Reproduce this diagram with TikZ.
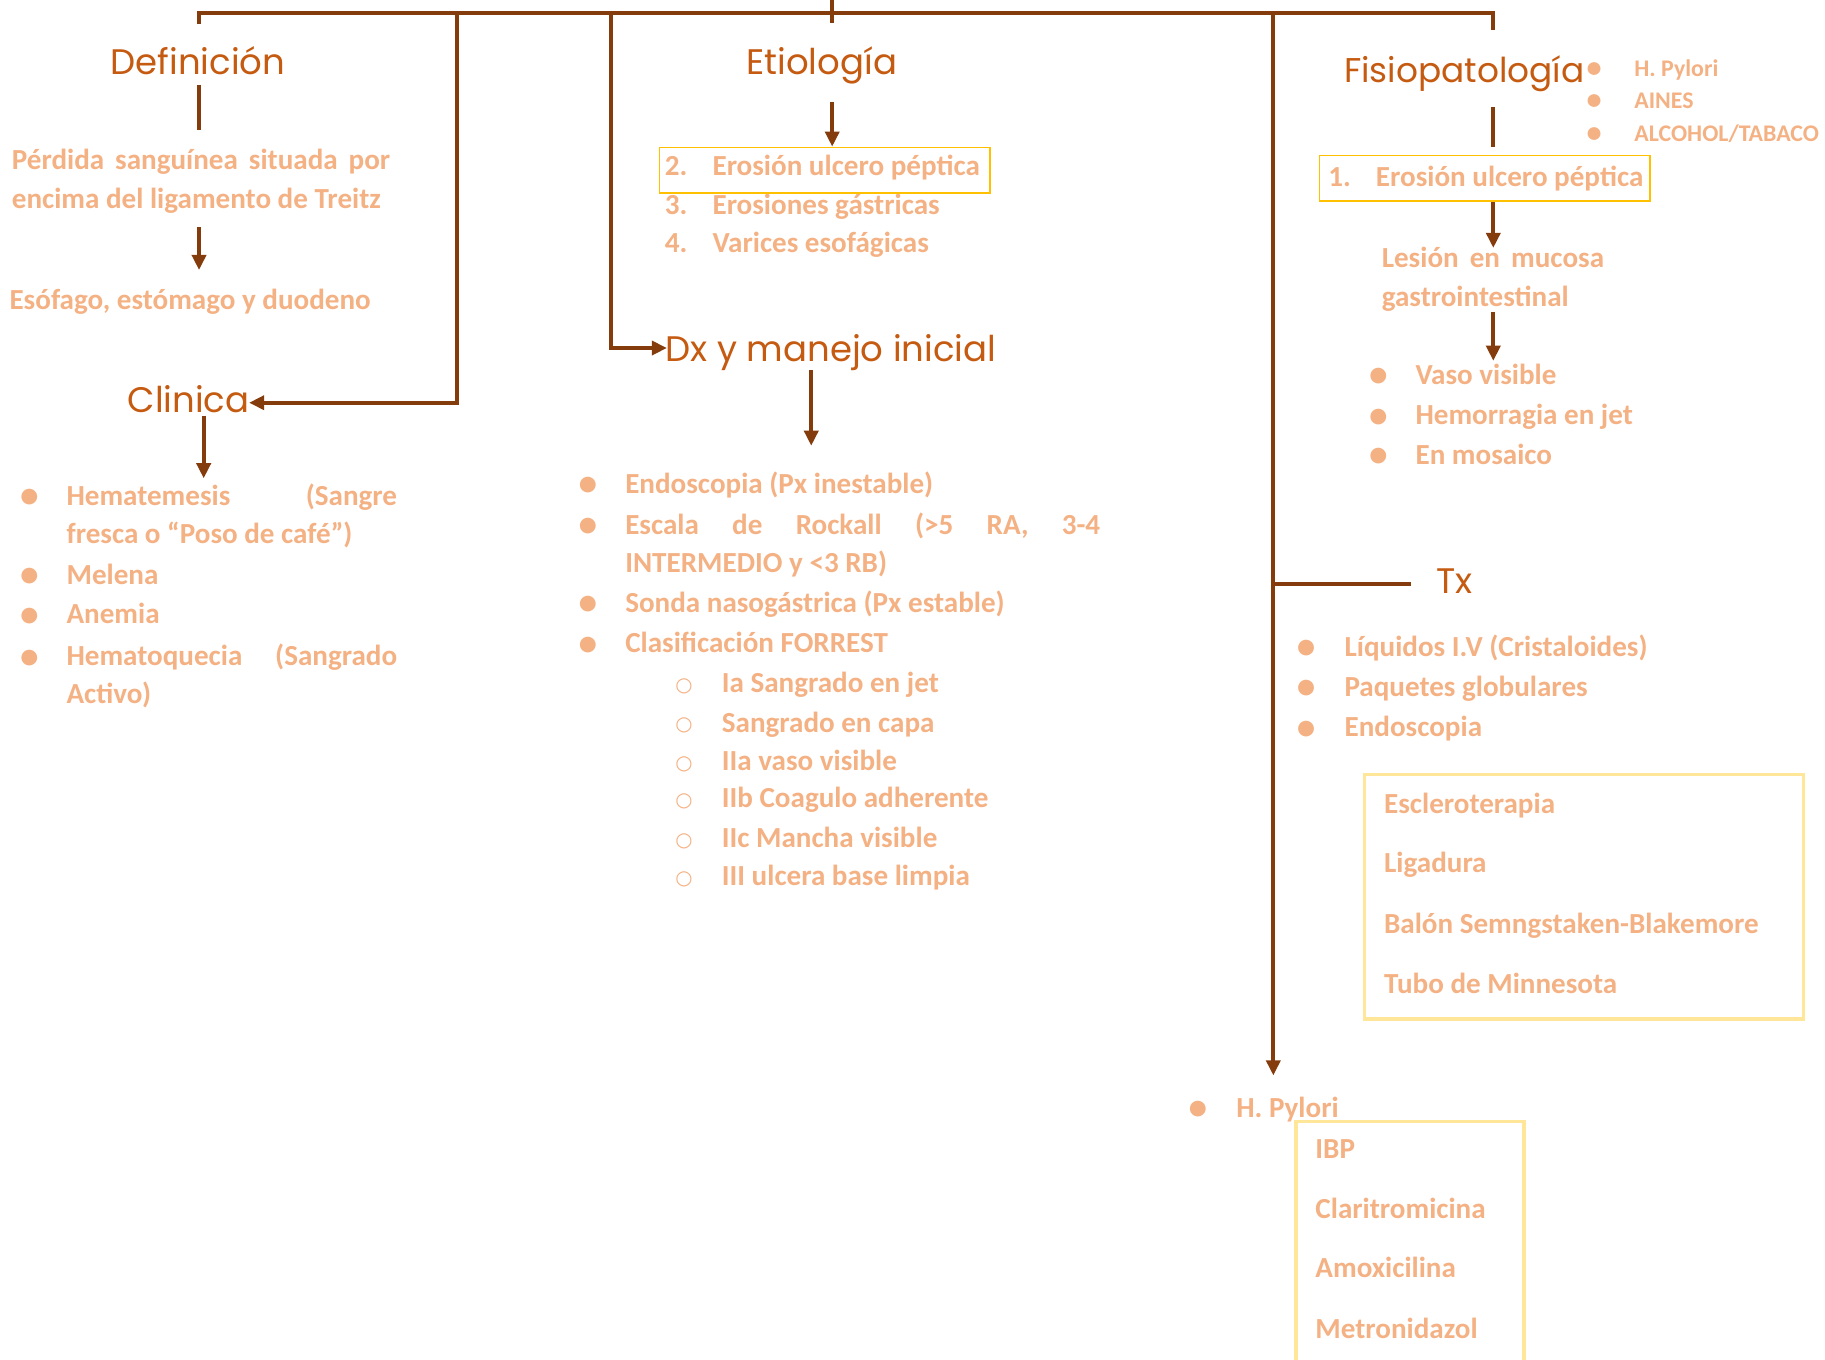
\documentclass[tikz,border=0pt]{standalone}
\usepackage{fontspec}
\setmainfont{Carlito}
\newfontfamily\headfont{Poppins}
\newfontfamily\dvfont{DejaVu Sans}
\usetikzlibrary{arrows.meta,positioning,calc}
\definecolor{headc}{HTML}{C55A11}
\definecolor{bodyc}{HTML}{F4B183}
\definecolor{linec}{HTML}{843C0C}
\definecolor{goldc}{HTML}{FFC000}
\definecolor{palec}{HTML}{FFE699}
\newcommand{\bigdot}{\raisebox{-2pt}{\fontsize{32}{32}\selectfont\textbullet}}
\newcommand{\bul}{\makebox[40pt][l]{\bigdot}}
\newcommand{\subbul}{\makebox[40pt][l]{\raisebox{1pt}{\dvfont\fontsize{17}{17}\selectfont ○}}}
\newcommand{\just}[2]{\makebox[#1][s]{#2}}
\newcommand{\numb}[1]{\makebox[41pt][l]{#1}}

\begin{document}
\begin{tikzpicture}[x=1pt,y=-1pt,
    head/.style={text=headc,font=\headfont\fontsize{30.5}{36}\selectfont,inner sep=0pt,anchor=base},
    txt/.style={text=bodyc,font=\bfseries\fontsize{25}{30}\selectfont,inner sep=0pt,anchor=base west},
    small/.style={txt,font=\bfseries\fontsize{20.5}{24}\selectfont},
    link/.style={draw=linec,line width=3.3pt},
    arr/.style={link,-{Triangle[length=13pt,width=12pt]}},
    goldbox/.style={draw=goldc,line width=1.4pt,inner sep=0pt,anchor=north west},
    palebox/.style={draw=palec,line width=2.8pt,inner sep=0pt,anchor=north west}]
  \useasboundingbox (0,0) rectangle (1568,1168);
  \clip (0,0) rectangle (1568,1168);

  % headings
  \node[head] (def)   at (170,64)  {Definición};
  \node[head] (etio)  at (706,64)  {Etiología};
  \node[head,font=\headfont\fontsize{29.5}{36}\selectfont] (fisio) at (1258,71) {Fisiopatología};
  \node[head] (clin)  at (162,354) {Clinica};
  \node[head] (dx)    at (714,311) {Dx y manejo inicial};
  \node[head] (tx)    at (1250,510) {Tx};

  % definicion
  \node[txt] (perd1) at (10,146) {\just{325pt}{Pérdida sanguínea situada por}};
  \node[txt] (perd2) at (10,179) {encima del ligamento de Treitz};
  \node[txt] (esof)  at (8,266)  {Esófago, estómago y duodeno};

  % clinica
  \foreach \n/\x/\y/\itm in {1/17/434/{\bul\just{284pt}{Hematemesis (Sangre}},
      2/57/467/{fresca o “Poso de café”)}, 3/17/502/{\bul Melena},
      4/17/536/{\bul Anemia}, 5/17/572/{\bul\just{284pt}{Hematoquecia (Sangrado}},
      6/57/604/{Activo)}}
    \node[txt] (cl\n) at (\x,\y) {\itm};

  % etiologia
  \foreach \n/\y/\itm in {1/151/{\numb{2.}Erosión ulcero péptica},
      2/184/{\numb{3.}Erosiones gástricas}, 3/217/{\numb{4.}Varices esofágicas}}
    \node[txt] (et\n) at (571,\y) {\itm};
  \node[goldbox,minimum width=284pt,minimum height=39pt] (etbox) at (566,126) {};

  % dx
  \foreach \n/\x/\y/\itm in {1/497/424/{\bul Endoscopia (Px inestable)},
      2/497/459/{\bul\just{408pt}{Escala de Rockall (>5 RA, 3-4}},
      3/537/492/{INTERMEDIO y <3 RB)}, 4/497/526/{\bul Sonda nasogástrica (Px estable)},
      5/497/561/{\bul Clasificación FORREST}}
    \node[txt] (dx\n) at (\x,\y) {\itm};
  \foreach \n/\y/\itm in {1/595/Ia Sangrado en jet, 2/629/Sangrado en capa,
      3/662/IIa vaso visible, 4/694/IIb Coagulo adherente,
      5/728/IIc Mancha visible, 6/761/III ulcera base limpia}
    \node[txt] (fr\n) at (580,\y) {\subbul\itm};

  % fisiopatologia
  \foreach \n/\y/\itm in {1/65.5/{H. Pylori}, 2/93.5/{AINES}, 3/121.5/{ALCOHOL/TABACO}}
    \node[small] (ca\n) at (1363,\y) {\makebox[41pt][l]{\raisebox{-1pt}{\fontsize{26}{26}\selectfont\textbullet}}\itm};
  \node[txt] (fi1) at (1141,160) {\numb{1.}Erosión ulcero péptica};
  \node[goldbox,minimum width=284pt,minimum height=39pt] (fibox) at (1133,133) {};
  \node[txt] (les1) at (1187,230) {\just{191pt}{Lesión en mucosa}};
  \node[txt] (les2) at (1187,263) {gastrointestinal};
  \foreach \n/\y/\itm in {1/330/Vaso visible, 2/365/Hemorragia en jet, 3/399/En mosaico}
    \node[txt] (fb\n) at (1176,\y) {\makebox[40pt][l]{\bigdot}\itm};

  % tx
  \foreach \n/\y/\itm in {1/564/{Líquidos I.V (Cristaloides)}, 2/598/Paquetes globulares, 3/633/Endoscopia}
    \node[txt] (tx\n) at (1114,\y) {\makebox[41pt][l]{\bigdot}\itm};
  \foreach \n/\y/\itm in {1/699/Escleroterapia, 2/750/Ligadura,
      3/802/Balón Semngstaken-Blakemore, 4/854/Tubo de Minnesota}
    \node[txt] (en\n) at (1189,\y) {\itm};
  \node[palebox,minimum width=377pt,minimum height=210pt] (enbox) at (1171,664) {};
  \node[txt] (hp) at (1021,960) {\makebox[41pt][l]{\bigdot}H. Pylori};
  \foreach \n/\y/\itm in {1/995/IBP, 2/1047/Claritromicina, 3/1098/Amoxicilina, 4/1150/Metronidazol}
    \node[txt] (hp\n) at (1130,\y) {\itm};
  \node[palebox,minimum width=196pt,minimum height=260pt] (hpbox) at (1112,962) {};

  % top bar and branches
  \coordinate (hub) at (715,11);
  \coordinate (brC) at (393,11);
  \coordinate (brD) at (525,11);
  \coordinate (brT) at (1094,11);
  \draw[link] ($(hub)+(0,-11)$) -- ($(hub)+(0,9)$);
  \draw[link] ($(def.base)+(1,-43)$) |- (hub) -| ($(fisio.base)+(25,-45)$);
  \draw[arr] (brC) |- ($(clin.base)+(52,-8)$);
  \draw[arr] (brD) |- ($(dx.base)+(-141,-12)$);
  \draw[arr] (brT) -- ($(brT |- hp.base)+(0,-36)$);
  \draw[link] ($(brT |- tx.base)+(0,-8)$) -- ($(tx.base)+(-38,-8)$);

  % vertical links
  \draw[link] ($(def.base)+(1,9)$) -- ($(def.base |- perd1.base)+(1,-34)$);
  \draw[arr] ($(def.base |- perd2.base)+(1,16)$) -- ($(def.base |- esof.base)+(1,-34)$);
  \draw[arr] ($(clin.base)+(13,3)$) -- ($(clin.base |- cl1.base)+(13,-23)$);
  \draw[arr] ($(etio.base)+(9,24)$) -- ($(etio.base |- etbox.north)+(9,0)$);
  \draw[arr] ($(dx.base)+(-17,7)$) -- ($(dx.base |- dx1.base)+(-17,-41)$);
  \draw[link] ($(fisio.base)+(25,21)$) -- ($(fisio.base |- fibox.north)+(25,-7)$);
  \draw[arr] ($(fisio.base |- fibox.south)+(25,0)$) -- ($(fisio.base |- les1.base)+(25,-17)$);
  \draw[arr] ($(fisio.base |- les2.base)+(25,5)$) -- ($(fisio.base |- fb1.base)+(25,-20)$);
\end{tikzpicture}
\end{document}
